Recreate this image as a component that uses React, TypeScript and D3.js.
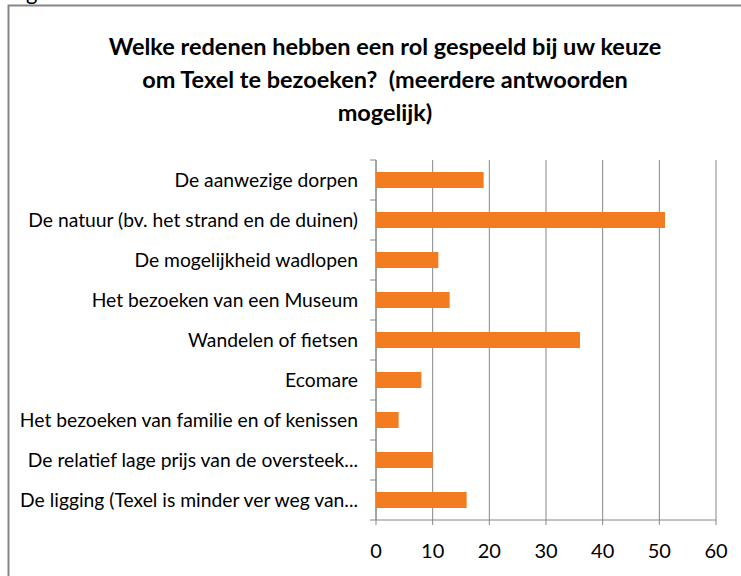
import * as d3 from 'd3';

const categories = [
  'De aanwezige dorpen',
  'De natuur (bv. het strand en de duinen)',
  'De mogelijkheid wadlopen',
  'Het bezoeken van een Museum',
  'Wandelen of fietsen',
  'Ecomare',
  'Het bezoeken van familie en of kenissen',
  'De relatief lage prijs van de oversteek...',
  'De ligging (Texel is minder ver weg van...',
];
const values = [19, 51, 11, 13, 36, 8, 4, 10, 16];
const xTicks = [0, 10, 20, 30, 40, 50, 60];
const titleLines = [
  'Welke redenen hebben een rol gespeeld bij uw keuze',
  'om Texel te bezoeken?  (meerdere antwoorden',
  'mogelijk)',
];

const W = 741;
const H = 576;
const plot = { left: 376, right: 716, top: 160, bottom: 520 };
const font = 'Lato, "Open Sans", sans-serif';

export default function App() {
  const x = d3.scaleLinear().domain([0, 60]).range([plot.left, plot.right]);
  const y = d3.scaleBand<string>().domain(categories).range([plot.top, plot.bottom]).paddingInner(0.6).paddingOuter(0.3);
  const band = d3.scaleBand<string>().domain(categories).range([plot.top, plot.bottom]);
  const grid = '#868686';

  return (
    <svg
      width={W}
      height={H}
      viewBox={`0 0 ${W} ${H}`}
      style={{ position: 'absolute', left: 0, top: 0, background: '#fff' }}
    >
      <rect x={0} y={0} width={W} height={H} fill="#fff" />
      <text x={26} y={0} fontFamily={font} fontSize={22} fill="#000">g</text>
      <rect x={8.5} y={5.5} width={W} height={H} fill="none" stroke="#868686" strokeWidth={2} />

      {titleLines.map((t, i) => (
        <text
          key={t}
          x={385}
          y={55 + i * 33}
          textAnchor="middle"
          fontFamily={font}
          fontWeight="bold"
          fontSize={23.5}
          fill="#000"
          style={{ whiteSpace: 'pre' }}
        >
          {t}
        </text>
      ))}

      {xTicks.map(t => (
        <line key={`g${t}`} x1={x(t)} x2={x(t)} y1={plot.top} y2={plot.bottom + 5} stroke={grid} strokeWidth={1} />
      ))}
      <line x1={plot.left} x2={plot.right} y1={plot.bottom} y2={plot.bottom} stroke={grid} />
      <line x1={plot.left} x2={plot.left} y1={plot.top} y2={plot.bottom} stroke={grid} />
      {categories.map(c => (
        <line key={`t${c}`} x1={plot.left - 6} x2={plot.left} y1={band(c)!} y2={band(c)!} stroke={grid} />
      ))}
      <line x1={plot.left - 6} x2={plot.left} y1={plot.bottom} y2={plot.bottom} stroke={grid} />

      {categories.map((c, i) => (
        <rect
          key={`b${c}`}
          x={x(0)}
          y={y(c)!}
          width={x(values[i]) - x(0)}
          height={y.bandwidth()}
          fill="#F47C20"
        />
      ))}

      {categories.map(c => (
        <text
          key={`l${c}`}
          x={358}
          y={band(c)! + band.bandwidth() / 2}
          dy="0.35em"
          textAnchor="end"
          fontFamily={font}
          fontSize={19.3}
          fill="#000"
        >
          {c}
        </text>
      ))}

      {xTicks.map(t => (
        <text
          key={`x${t}`}
          x={x(t)}
          y={551}
          dy="0.35em"
          textAnchor="middle"
          fontFamily={font}
          fontSize={20}
          fill="#000"
        >
          {t}
        </text>
      ))}
    </svg>
  );
}
